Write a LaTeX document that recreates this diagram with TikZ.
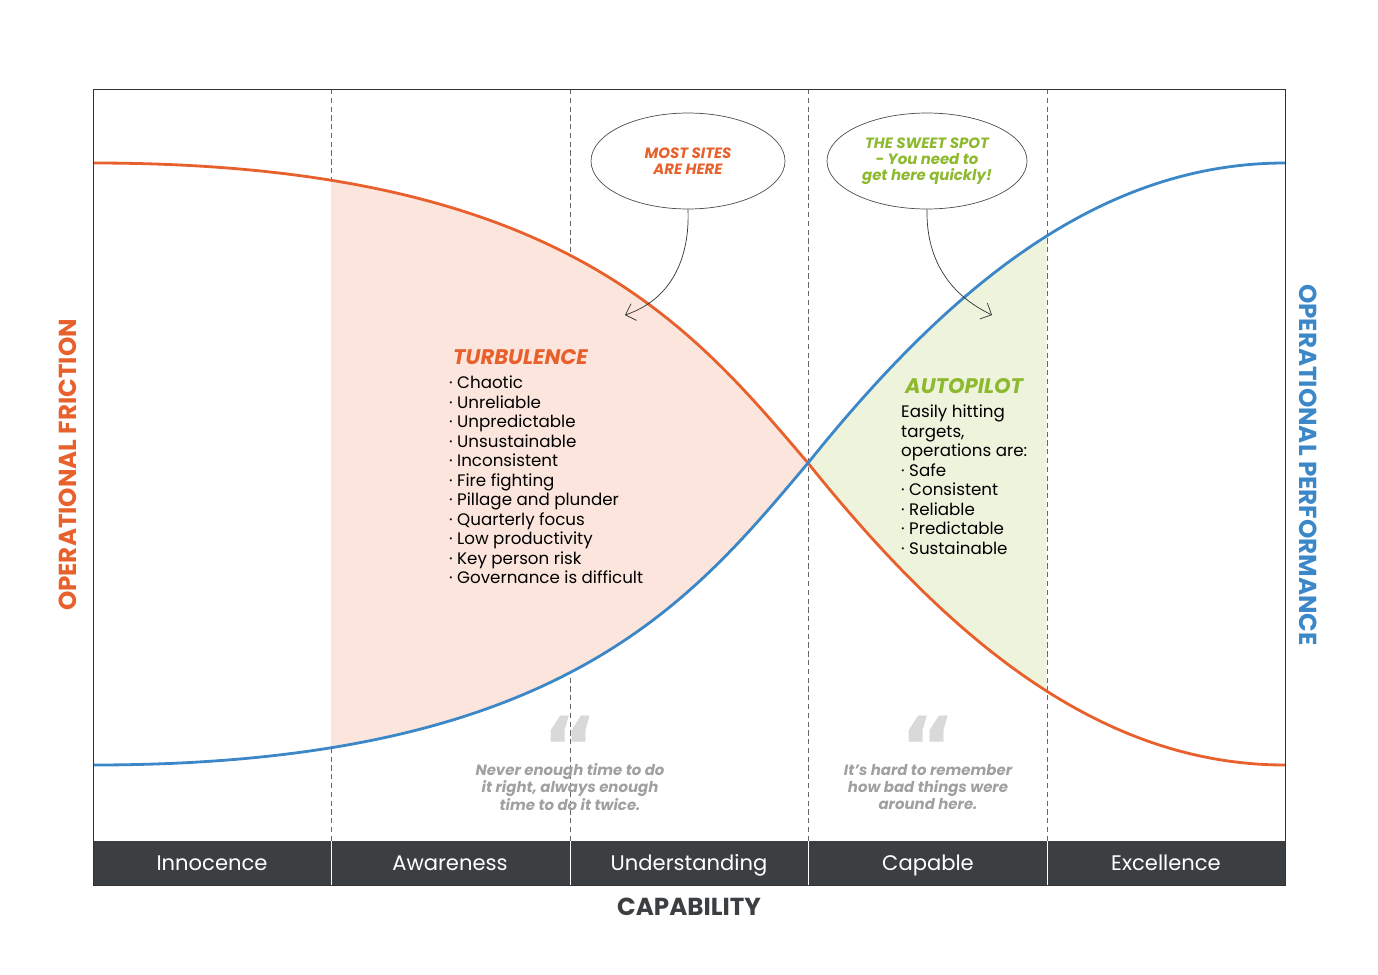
\documentclass[tikz,border=0pt]{standalone}
\usepackage{fontspec}
\setmainfont{Poppins}
\newfontfamily\markfont{DejaVu Sans}
\usetikzlibrary{arrows.meta,shapes.geometric}
\definecolor{orng}{HTML}{E8602C}
\definecolor{blu}{HTML}{3B87C8}
\definecolor{grn}{HTML}{8DB92E}
\definecolor{band}{HTML}{3C3F42}
\definecolor{pinkfill}{HTML}{FBE5DC}
\definecolor{greenfill}{HTML}{EEF3DC}
\definecolor{quotegray}{HTML}{A0A0A0}
\tikzstyle{bubble} = [ellipse, draw=black!70, thin, minimum width=3.88cm, minimum height=1.92cm, align=center, font=\fontsize{8.5}{9}\selectfont\bfseries\itshape]
\tikzstyle{stage} = [anchor=base, text=white, font=\fontsize{12}{14}\selectfont]
\tikzstyle{divider} = [densely dashed, black!60, thin]
\tikzstyle{curve} = [line width=1.6pt]
\tikzstyle{pointer} = [thin, black!80, -{Straight Barb[length=5pt]}]
\tikzstyle{quote} = [align=center, text=quotegray, inner sep=0pt, font=\fontsize{8.5}{9.9}\selectfont\bfseries\itshape]
\tikzstyle{qmark} = [text=black!15, inner sep=0pt, text height=36pt, text depth=-20pt, font=\markfont\fontsize{48}{48}\selectfont\bfseries]
\tikzstyle{list} = [anchor=north west, align=left, font=\fontsize{9.5}{11.1}\selectfont]
\begin{document}
\begin{tikzpicture}[x=0.02cm, y=-0.02cm]
  \useasboundingbox (0,0) rectangle (1378,974);
  % columns
  \foreach \x in {331,570,808,1047} {
    \draw[divider] (\x,89) -- (\x,841);
  }
  % shaded zones
  \begin{scope}
    \clip (331,89) rectangle (808,841);
    \fill[pinkfill] (93,163) .. controls (560,163) and (690,325) .. (808,463)
      .. controls (690,603) and (560,765) .. (93,765) -- cycle;
  \end{scope}
  \begin{scope}
    \clip (808,89) rectangle (1046.5,841);
    \fill[greenfill] (808,463) .. controls (950,286) and (1100,163) .. (1285,163)
      -- (1285,765) .. controls (1100,765) and (950,640) .. (808,463) -- cycle;
  \end{scope}
  \draw[divider] (1047,89) -- (1047,841);
  % curves
  \draw[curve, orng] (93,163) .. controls (560,163) and (690,325) .. (808,463)
    .. controls (950,640) and (1100,765) .. (1285,765);
  \draw[curve, blu] (93,765) .. controls (560,765) and (690,603) .. (808,463)
    .. controls (950,286) and (1100,163) .. (1285,163);
  % frame and band
  \fill[band] (93,841) rectangle (1285,885);
  \foreach \x in {331,570,808,1047} {
    \draw[white, thin] (\x,841) -- (\x,885);
  }
  \draw[black!80, thin] (93,89) rectangle (1285,885);
  \node (innocence) [stage] at (212,870) {Innocence};
  \node (awareness) [stage] at (450,870) {Awareness};
  \node (understanding) [stage] at (689,870) {Understanding};
  \node (capable) [stage] at (928,870) {Capable};
  \node (excellence) [stage] at (1166,870) {Excellence};
  \node (capability) [text=band] at (689,907) {\fontsize{14}{16}\selectfont\bfseries CAPABILITY};
  \node (friction) [rotate=90, text=orng] at (68,465) {\fontsize{14}{16}\selectfont\bfseries OPERATIONAL FRICTION};
  \node (performance) [rotate=-90, text=blu] at (1308,465) {\fontsize{14}{16}\selectfont\bfseries OPERATIONAL PERFORMANCE};
  % bubbles
  \node (most) [bubble, text=orng] at (688,161) {MOST SITES\\ARE HERE};
  \node (sweet) [bubble, text=grn] at (927,161) {THE SWEET SPOT\\- You need to\\get here quickly!};
  \coordinate (mostend) at (625,315);
  \coordinate (sweetend) at (992,315);
  \draw[pointer] (most.south) .. controls (690,260) and (670,300) .. (mostend);
  \draw[pointer] (sweet.south) .. controls (926,260) and (950,295) .. (sweetend);
  % zone texts
  \node (turb) [anchor=west, text=orng] at (447,357) {\fontsize{12}{14}\selectfont\bfseries\itshape TURBULENCE};
  \node (turblist) [list] at (443,370) {· Chaotic\\· Unreliable\\· Unpredictable\\· Unsustainable\\· Inconsistent\\· Fire fighting\\· Pillage and plunder\\· Quarterly focus\\· Low productivity\\· Key person risk\\· Governance is difficult};
  \node (auto) [anchor=west, text=grn] at (899,386) {\fontsize{12}{14}\selectfont\bfseries\itshape AUTOPILOT};
  \node (autolist) [list] at (895,399) {Easily hitting\\targets,\\operations are:\\· Safe\\· Consistent\\· Reliable\\· Predictable\\· Sustainable};
  % quotes
  \node (mark1) [qmark] at (570,746) {“};
  \node (mark2) [qmark] at (928,746) {“};
  \node (quote1) [quote] at (570,787) {Never enough time to do\\it right, always enough\\time to do it twice.};
  \node (quote2) [quote] at (928,787) {It’s hard to remember\\how bad things were\\around here.};
\end{tikzpicture}
\end{document}
